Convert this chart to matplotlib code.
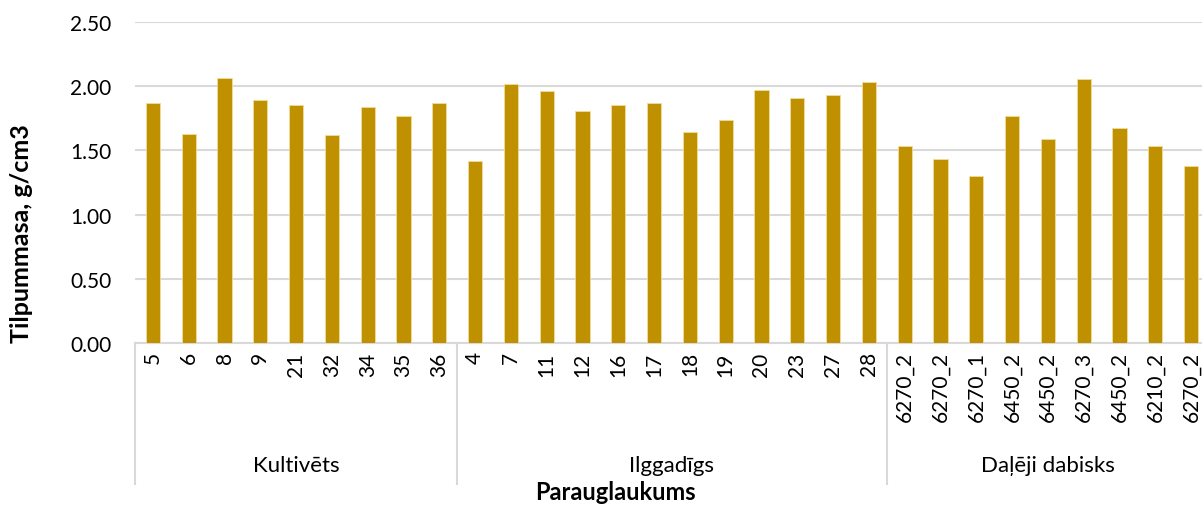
import matplotlib.pyplot as plt
import matplotlib.transforms as mtransforms

groups = ['Kultivēts', 'Ilggadīgs', 'Daļēji dabisks']
group_sizes = [9, 12, 9]
plots = ['5', '6', '8', '9', '21', '32', '34', '35', '36',
         '4', '7', '11', '12', '16', '17', '18', '19', '20', '23', '27', '28',
         '6270_2', '6270_2', '6270_1', '6450_2', '6450_2', '6270_3', '6450_2', '6210_2', '6270_2']
density = [1.87, 1.63, 2.06, 1.89, 1.855, 1.62, 1.835, 1.77, 1.87,
           1.42, 2.02, 1.96, 1.81, 1.855, 1.87, 1.645, 1.74, 1.97, 1.905, 1.93, 2.03,
           1.535, 1.43, 1.30, 1.77, 1.585, 2.055, 1.675, 1.535, 1.375]
yticks = [0.0, 0.5, 1.0, 1.5, 2.0, 2.5]

plt.rcParams['font.family'] = ['Lato', 'DejaVu Sans']
grid_col = '#d9d9d9'

fig = plt.figure(figsize=(12.02, 5.06), dpi=100)
ax = fig.add_axes([135 / 1202, 1 - 344 / 506, 1074 / 1202, 321 / 506])

x = list(range(len(plots)))
ax.bar(x, density, width=0.4, color='#bf9000', edgecolor='#f2dc9b', linewidth=0.6, zorder=3)

ax.set_xlim(-0.5, len(plots) - 0.5)
ax.set_ylim(0, 2.5)
ax.set_yticks(yticks)
ax.set_yticklabels([f'{v:.2f}' for v in yticks])
ax.yaxis.grid(True, color=grid_col, linewidth=1.5, zorder=0)
ax.tick_params(axis='y', length=0, pad=17, labelsize=15)
ax.set_xticks(x)
ax.set_xticklabels(plots, rotation=90, va='top', ha='center')
ax.tick_params(axis='x', length=0, pad=6, labelsize=15)

for s in ['top', 'right', 'left']:
    ax.spines[s].set_visible(False)
ax.spines['bottom'].set_color(grid_col)
ax.spines['bottom'].set_linewidth(1.5)

# group separators and names under the tick labels
trans = mtransforms.blended_transform_factory(ax.transData, ax.transAxes)
edges = [-0.5]
for n in group_sizes:
    edges.append(edges[-1] + n)
for e in edges:
    ax.plot([e, e], [0, -0.44], color=grid_col, linewidth=1.5, transform=trans, clip_on=False)
for i, g in enumerate(groups):
    ax.text((edges[i] + edges[i + 1]) / 2, -0.38, g, transform=trans,
            ha='center', va='center', fontsize=16)

fig.text(22 / 1202, 1 - 234 / 506, 'Tilpummasa, g/cm3', rotation=90,
         ha='center', va='center', fontsize=18, fontweight='bold')
fig.text(615 / 1202, 1.5 / 506, 'Parauglaukums', ha='center', va='bottom',
         fontsize=17, fontweight='bold')

fig.savefig('out.png', dpi=100)
